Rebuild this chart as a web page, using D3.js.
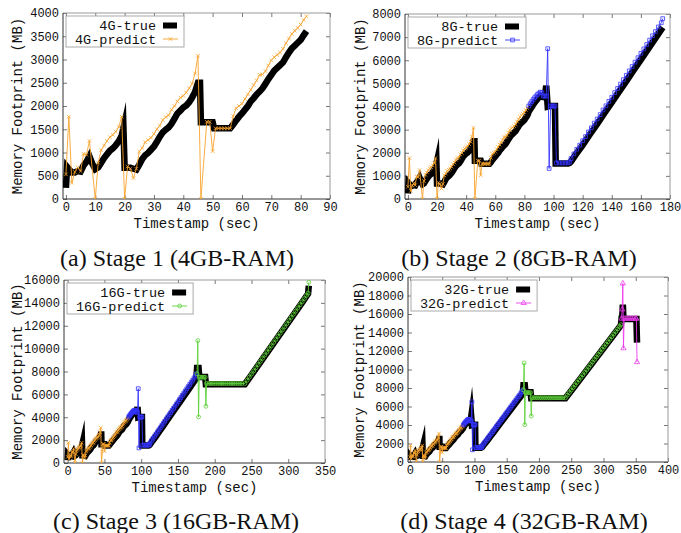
<html>
<head>
<script src="https://d3js.org/d3.v7.min.js"></script>
<style>
  body { margin: 0; background: #fff; }
</style>
</head>
<body>
<svg id="fig" width="681" height="533"></svg>
<script>
// measured memory trace, [timestamp sec, MB]
const trueTrace = [
  [0,240],[0.4,690],[2,570],[3,570],[4,600],[5,590],[6,720],[7,800],[8,920],[9,760],[10,640],
  [11,680],[12,780],[13,880],[14,960],[15,1040],[16,1090],[17,1160],[18,1240],[19,1360],[19.6,1530],
  [20,670],[21,670],[22,670],[23,650],[24,630],[25,740],[26,860],[27,940],[28,990],[29,1060],
  [30,1130],[31,1230],[32,1340],[33,1430],[34,1490],[35,1540],[36,1620],[37,1730],[38,1840],[39,1900],
  [40,1970],[41,2010],[42,2080],[43,2180],[44,2300],[45,2500],[45.7,2500],[46,1650],[47,1650],[48,1650],
  [49,1650],[50,1650],[50.5,1520],[52,1520],[54,1520],[56,1520],[57,1600],[58,1690],[59,1770],
  [60,1840],[61,1920],[62,2000],[63,2100],[64,2170],[65,2250],[66,2310],[67,2380],[68,2480],[69,2580],
  [70,2670],[71,2760],[72,2820],[73,2880],[74,2940],[75,3050],[76,3150],[77,3240],[78,3300],[79,3360],
  [80,3420],[81,3520],[82,3610],
  [83,3780],[84,3880],[85,3980],[86,4080],[87,4170],[88,4250],[89,4330],[90,4400],[91,4450],[92,4430],
  [93,4410],[94,4400],[95,4900],[96,4000],[97,4020],[98,4020],[99,4020],[100,4020],[101,4020],
  [101.5,1530],[104,1530],[107,1530],[110,1530],[111,1560],[112,1620],[115,1900],[120,2330],[125,2800],
  [130,3250],[135,3720],[140,4180],[145,4640],[150,5100],[155,5570],[160,6030],[165,6490],[170,6950],
  [175,7420],
  [176,8300],[178,8300],[179,7530],[183,7530],[187,7530],[188,6890],[200,6890],[220,6890],[241,6890],
  [250,7700],[260,8620],[270,9540],[280,10460],[290,11380],[300,12300],[310,13220],[320,14140],
  [327,14800],[328,15500],
  [329,15500],[330,17000],[331,15460],[340,15460],[351,15460],[352,12900]
];

// predictions of each stage model
const pred4 = [
  [0,530],[1,1770],[2,350],[3,580],[4,680],[5,600],[6,970],[7,950],[8,1250],[10,0],
  [11,780],[12,1050],[13,1150],[14,1250],[15,1330],[16,1380],[17,1450],[18,1550],[19,1770],[20,0],
  [21,700],[22,650],[23,450],[24,650],[25,1020],[26,1100],[27,1220],[28,1270],[29,1320],[30,1400],
  [31,1500],[32,1580],[33,1700],[34,1760],[35,1800],[36,1920],[37,2000],[38,2100],[39,2180],[40,2220],
  [41,2290],[42,2380],[43,2480],[44,2700],[45,3080],[46,0],[48,1660],[49,1660],[50,1030],[51,1520],
  [52,1520],[53,1520],[54,1520],[55,1520],[56,1520],[57,1780],[58,1950],[59,2000],[60,2050],
  [61,2150],[62,2250],[63,2350],[64,2450],[65,2550],[66,2670],[67,2680],[68,2750],[69,2870],[70,2980],
  [71,3050],[72,3100],[73,3150],[74,3230],[75,3350],[76,3450],[77,3550],[78,3620],[79,3680],[80,3750],
  [81,3850],[82,3930]
];
const pred8 = [
  [83,4020],[84,4120],[85,4210],[86,4300],[87,4380],[88,4450],[89,4520],[90,4580],[91,4620],[92,4600],
  [93,4450],[94,4450],[95,4450],[96,6500],[97,1320],[98,4020],[99,4020],[100,4020],[101,4020],
  [102,1560],[104,1560],[106,1560],[108,1560],[110,1560],[111,1600],
  [112,1750],[114,1950],[116,2150],[118,2330],[120,2520],[122,2700],[124,2900],[126,3080],[128,3280],
  [130,3460],[132,3650],[134,3850],[136,4030],[138,4220],[140,4400],[142,4600],[144,4780],[146,4970],
  [148,5160],[150,5350],[152,5540],[154,5730],[156,5920],[158,6110],[160,6300],[162,6490],[164,6680],
  [166,6870],[168,7060],[170,7240],[172,7440],[174,7620],[175,7800]
];
const pred16 = [
  [176,7800],[177,10700],[178,4030],[179,7500],[181,7500],[183,7500],[185,7500],[187,7500],[188,4960],
  [189,6950],[192,6950],[195,6950],[198,6950],[201,6950],[204,6950],[207,6950],[210,6950],[213,6950],
  [216,6950],[219,6950],[222,6950],[225,6950],[228,6950],[231,6950],[234,6950],[237,6950],[241,6950],
  [244,7230],[247,7500],[250,7780],[253,8050],[256,8330],[259,8600],[262,8880],[265,9150],[268,9430],
  [271,9700],[274,9980],[277,10250],[280,10530],[283,10800],[286,11080],[289,11350],[292,11630],
  [295,11900],[298,12180],[301,12450],[304,12730],[307,13000],[310,13280],[313,13550],[316,13830],
  [319,14100],[322,14380],[325,14650],[327,14850],[328,15800]
];
const pred32 = [
  [328,15500],[329,16500],[330,19300],[331,12300],[332,15500],[335,15500],[338,15500],[341,15500],
  [344,15500],[347,15500],[350,15500],[351,15500],[352,10800]
];

const stageNames = ["4G", "8G", "16G", "32G"];
const stageEnd = [82, 175, 328, 352];
const captions = ["(a) Stage 1 (4GB-RAM)", "(b) Stage 2 (8GB-RAM)", "(c) Stage 3 (16GB-RAM)", "(d) Stage 4 (32GB-RAM)"];
const xMax = [90, 180, 350, 400];
const yMax = [4000, 8000, 16000, 20000];
const xTicks = [
  [0, 10, 20, 30, 40, 50, 60, 70, 80, 90],
  [0, 20, 40, 60, 80, 100, 120, 140, 160, 180],
  [0, 50, 100, 150, 200, 250, 300, 350],
  [0, 50, 100, 150, 200, 250, 300, 350, 400]
];
const yTicks = [
  [0, 500, 1000, 1500, 2000, 2500, 3000, 3500, 4000],
  [0, 1000, 2000, 3000, 4000, 5000, 6000, 7000, 8000],
  [0, 2000, 4000, 6000, 8000, 10000, 12000, 14000, 16000],
  [0, 2000, 4000, 6000, 8000, 10000, 12000, 14000, 16000, 18000, 20000]
];

// layout of the four panels
const layout = [
  { left: 63, right: 330, top: 13, bottom: 199, xMin: -1, capX: 177, capY: 266, labX: 17 },
  { left: 405, right: 670, top: 14, bottom: 199, xMin: -2, capX: 519, capY: 266, labX: 360 },
  { left: 64, right: 325, top: 280, bottom: 463, xMin: -5, capX: 176, capY: 529, labX: 17 },
  { left: 408, right: 668, top: 277, bottom: 462, xMin: -3, capX: 524, capY: 529, labX: 359 }
];
const predStyle = [
  { color: "#f8a32c", sym: d3.symbolX, size: 10 },
  { color: "#3535ff", sym: d3.symbolSquare, size: 14 },
  { color: "#5ed23a", sym: d3.symbolCircle, size: 12 },
  { color: "#ee3cee", sym: d3.symbolTriangle, size: 12 }
];
const mono = "'Liberation Mono', 'DejaVu Sans Mono', monospace";

const svg = d3.select("#fig");

layout.forEach((L, i) => {
  const g = svg.append("g");
  const x = d3.scaleLinear().domain([L.xMin, xMax[i]]).range([L.left, L.right]);
  const y = d3.scaleLinear().domain([0, yMax[i]]).range([L.bottom, L.top]);

  g.append("clipPath").attr("id", "clip" + i)
    .append("rect")
    .attr("x", L.left).attr("y", L.top)
    .attr("width", L.right - L.left).attr("height", L.bottom - L.top);

  // axes, ticks pointing inward
  const styleAxis = (sel) => {
    sel.select(".domain").remove();
    sel.selectAll(".tick line").attr("stroke", "#777");
    sel.selectAll("text").attr("font-family", mono).attr("font-size", 12).attr("fill", "#111");
  };
  g.append("g").attr("transform", `translate(0,${L.bottom})`)
    .call(d3.axisBottom(x).tickValues(xTicks[i]).tickFormat(d3.format("d"))
      .tickSizeInner(-4).tickSizeOuter(0).tickPadding(3))
    .call(styleAxis);
  g.append("g").attr("transform", `translate(0,${L.top})`)
    .call(d3.axisTop(x).tickValues(xTicks[i]).tickSizeInner(-4).tickSizeOuter(0).tickFormat(""))
    .call(styleAxis);
  g.append("g").attr("transform", `translate(${L.left},0)`)
    .call(d3.axisLeft(y).tickValues(yTicks[i]).tickFormat(d3.format("d"))
      .tickSizeInner(-4).tickSizeOuter(0).tickPadding(4))
    .call(styleAxis);
  g.append("g").attr("transform", `translate(${L.right},0)`)
    .call(d3.axisRight(y).tickValues(yTicks[i]).tickSizeInner(-4).tickSizeOuter(0).tickFormat(""))
    .call(styleAxis);

  // border
  g.append("path")
    .attr("d", `M${L.left},${L.top}H${L.right}V${L.bottom}`)
    .attr("fill", "none").attr("stroke", "#999");
  g.append("path")
    .attr("d", `M${L.left},${L.top}V${L.bottom}H${L.right}`)
    .attr("fill", "none").attr("stroke", "#333");

  const plot = g.append("g").attr("clip-path", `url(#clip${i})`);
  const line = d3.line().x((d) => x(d[0])).y((d) => y(d[1]));

  plot.append("path")
    .datum(trueTrace.filter((d) => d[0] <= stageEnd[i]))
    .attr("d", line)
    .attr("fill", "none")
    .attr("stroke", "#000")
    .attr("stroke-width", 6.5)
    .attr("stroke-linejoin", "miter")
    .attr("stroke-miterlimit", 10);

  const preds = [pred4, pred8, pred16, pred32].slice(0, i + 1).map((p, k) => {
    if (i === 3 && k === 2) return p.filter((d) => d[0] <= 327);
    return p;
  });
  preds.forEach((p, k) => {
    const s = predStyle[k];
    plot.append("path")
      .datum(p)
      .attr("d", line)
      .attr("fill", "none")
      .attr("stroke", s.color)
      .attr("stroke-width", 0.9);
    plot.selectAll(null)
      .data(p)
      .join("path")
      .attr("transform", (d) => `translate(${x(d[0])},${y(d[1])})`)
      .attr("d", d3.symbol(s.sym, s.size))
      .attr("fill", "none")
      .attr("stroke", s.color)
      .attr("stroke-width", 0.8);
  });

  // legend
  const nChars = (stageNames[i] + "-predict").length;
  const bx = L.left + 3, by = L.top + 3;
  const tr = bx + 9 + nChars * 8.1;
  g.append("rect")
    .attr("x", bx).attr("y", by)
    .attr("width", tr + 28 - bx).attr("height", 31)
    .attr("fill", "#fff").attr("stroke", "#aaa");
  const rows = [
    { label: stageNames[i] + "-true", cy: by + 9.5 },
    { label: stageNames[i] + "-predict", cy: by + 23 }
  ];
  rows.forEach((r) => {
    g.append("text")
      .attr("x", tr).attr("y", r.cy)
      .attr("dy", "0.35em")
      .attr("text-anchor", "end")
      .attr("font-family", mono).attr("font-size", 13.5).attr("fill", "#111")
      .text(r.label);
  });
  g.append("rect")
    .attr("x", tr + 7).attr("y", rows[0].cy - 3)
    .attr("width", 14).attr("height", 6)
    .attr("fill", "#000");
  const ls = predStyle[i];
  g.append("line")
    .attr("x1", tr + 7).attr("x2", tr + 22)
    .attr("y1", rows[1].cy).attr("y2", rows[1].cy)
    .attr("stroke", ls.color).attr("stroke-width", 0.9);
  g.append("path")
    .attr("transform", `translate(${tr + 14.5},${rows[1].cy})`)
    .attr("d", d3.symbol(ls.sym, ls.size))
    .attr("fill", "none").attr("stroke", ls.color).attr("stroke-width", 0.8);

  // axis titles
  g.append("text")
    .attr("x", (L.left + L.right) / 2).attr("y", L.bottom + 24)
    .attr("dy", "0.35em")
    .attr("text-anchor", "middle")
    .attr("font-family", mono).attr("font-size", 14).attr("fill", "#111")
    .text("Timestamp (sec)");
  g.append("text")
    .attr("transform", `translate(${L.labX},${(L.top + L.bottom) / 2}) rotate(-90)`)
    .attr("dy", "0.35em")
    .attr("text-anchor", "middle")
    .attr("font-family", mono).attr("font-size", 14).attr("fill", "#111")
    .text("Memory Footprint (MB)");

  // caption
  svg.append("text")
    .attr("x", L.capX).attr("y", L.capY)
    .attr("text-anchor", "middle")
    .attr("font-family", "'Liberation Serif', 'DejaVu Serif', serif")
    .attr("font-size", 24).attr("fill", "#111")
    .text(captions[i]);
});
</script>
</body>
</html>
